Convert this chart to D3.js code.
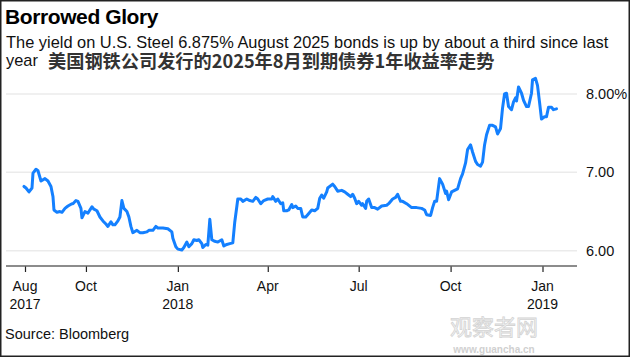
<!DOCTYPE html>
<html><head><meta charset="utf-8">
<script src="https://cdn.jsdelivr.net/npm/d3@7/dist/d3.min.js"></script>
<style>
html,body{margin:0;padding:0;background:#fff;}
svg{display:block;}
</style></head>
<body>
<svg id="c" width="630" height="357"></svg>
<script>
const title = "Borrowed Glory";
const subtitle1 = "The yield on U.S. Steel 6.875% August 2025 bonds is up by about a third since last";
const subtitle2a = "year";
const subtitle2b = "美国钢铁公司发行的2025年8月到期债券1年收益率走势";
const source = "Source: Bloomberg";

const dates = ["2017-07-31","2017-08-02","2017-08-05","2017-08-08","2017-08-09","2017-08-12","2017-08-14","2017-08-17","2017-08-21","2017-08-24",
"2017-08-27","2017-08-29","2017-08-30","2017-09-02","2017-09-05","2017-09-07","2017-09-10","2017-09-13","2017-09-17","2017-09-18",
"2017-09-21","2017-09-23","2017-09-26","2017-09-27","2017-09-30","2017-10-03","2017-10-04","2017-10-07","2017-10-09","2017-10-12",
"2017-10-15","2017-10-18","2017-10-21","2017-10-23","2017-10-26","2017-10-28","2017-10-30","2017-11-02","2017-11-04","2017-11-06",
"2017-11-08","2017-11-11","2017-11-13","2017-11-15","2017-11-17","2017-11-21","2017-11-24","2017-11-27","2017-12-01","2017-12-03",
"2017-12-07","2017-12-10","2017-12-12","2017-12-17","2017-12-22","2017-12-26","2017-12-27","2017-12-30","2018-01-01","2018-01-05",
"2018-01-07","2018-01-10","2018-01-12","2018-01-15","2018-01-17","2018-01-20","2018-01-22","2018-01-25","2018-01-26","2018-01-29",
"2018-01-31","2018-02-02","2018-02-04","2018-02-07","2018-02-10","2018-02-14","2018-02-16","2018-02-19","2018-02-22","2018-02-25",
"2018-02-27","2018-03-01","2018-03-02","2018-03-05","2018-03-07","2018-03-11","2018-03-14","2018-03-17","2018-03-20","2018-03-22",
"2018-03-25","2018-03-28","2018-04-01","2018-04-05","2018-04-06","2018-04-09","2018-04-11","2018-04-14","2018-04-16","2018-04-17",
"2018-04-20","2018-04-22","2018-04-25","2018-04-26","2018-04-29","2018-05-01","2018-05-04","2018-05-06","2018-05-09","2018-05-11",
"2018-05-15","2018-05-18","2018-05-21","2018-05-23","2018-05-25","2018-05-27","2018-05-30","2018-05-31","2018-06-05","2018-06-07",
"2018-06-10","2018-06-14","2018-06-17","2018-06-20","2018-06-23","2018-06-25","2018-06-27","2018-06-29","2018-07-01","2018-07-04",
"2018-07-05","2018-07-08","2018-07-09","2018-07-11","2018-07-14","2018-07-17","2018-07-20","2018-07-24","2018-07-29","2018-07-31",
"2018-08-04","2018-08-07","2018-08-09","2018-08-12","2018-08-14","2018-08-18","2018-08-23","2018-08-28","2018-09-02","2018-09-05",
"2018-09-07","2018-09-11","2018-09-13","2018-09-15","2018-09-17","2018-09-20","2018-09-23","2018-09-26","2018-09-27","2018-09-29",
"2018-10-02","2018-10-05","2018-10-08","2018-10-11","2018-10-13","2018-10-16","2018-10-18","2018-10-21","2018-10-23","2018-10-26",
"2018-10-28","2018-10-31","2018-11-02","2018-11-04","2018-11-06","2018-11-09","2018-11-12","2018-11-15","2018-11-17","2018-11-20",
"2018-11-22","2018-11-24","2018-11-26","2018-11-28","2018-12-01","2018-12-03","2018-12-05","2018-12-06","2018-12-08","2018-12-11",
"2018-12-13","2018-12-16","2018-12-18","2018-12-21","2018-12-22","2018-12-25","2018-12-27","2018-12-29","2018-12-31","2019-01-03",
"2019-01-05","2019-01-07","2019-01-10","2019-01-12","2019-01-15"];

const yields = [6.82,6.80,6.75,6.80,6.99,7.04,7.02,6.89,6.92,6.89,
6.82,6.69,6.52,6.49,6.50,6.49,6.54,6.57,6.60,6.60,
6.64,6.63,6.54,6.42,6.50,6.48,6.50,6.56,6.53,6.51,
6.43,6.38,6.34,6.31,6.37,6.33,6.33,6.38,6.43,6.64,
6.54,6.50,6.43,6.31,6.23,6.26,6.23,6.23,6.24,6.26,
6.26,6.31,6.29,6.29,6.28,6.24,6.16,6.05,6.02,6.01,
6.04,6.11,6.05,6.09,6.14,6.13,6.14,6.09,6.04,6.08,
6.07,6.40,6.14,6.12,6.11,6.14,6.06,6.08,6.09,6.10,
6.37,6.56,6.66,6.66,6.63,6.66,6.64,6.63,6.68,6.66,
6.60,6.64,6.66,6.66,6.69,6.63,6.66,6.60,6.61,6.51,
6.51,6.52,6.59,6.55,6.57,6.54,6.54,6.43,6.43,6.46,
6.52,6.51,6.54,6.67,6.71,6.67,6.75,6.80,6.85,6.82,
6.76,6.77,6.75,6.72,6.69,6.72,6.67,6.60,6.63,6.58,
6.60,6.54,6.63,6.66,6.55,6.55,6.53,6.57,6.58,6.60,
6.66,6.68,6.72,6.63,6.63,6.60,6.55,6.55,6.54,6.52,
6.46,6.45,6.55,6.63,6.63,6.92,6.85,6.73,6.76,6.65,
6.75,6.77,6.79,6.92,6.98,7.12,7.29,7.35,7.26,7.14,
7.10,7.08,7.13,7.35,7.48,7.60,7.60,7.58,7.49,7.56,
7.82,8.00,8.01,7.84,7.80,7.90,7.95,7.91,8.09,8.01,
7.92,7.84,7.84,8.01,8.18,8.20,8.11,7.90,7.68,7.71,
7.71,7.83,7.83,7.80,7.81];

const yTicks = [6, 7, 8];
const yTickLabels = ["6.00", "7.00", "8.00%"];
const xTicks = ["2017-08-01","2017-10-01","2018-01-01","2018-04-01","2018-07-01","2018-10-01","2019-01-01"];
const xTickMonths = ["Aug","Oct","Jan","Apr","Jul","Oct","Jan"];
const xTickYears = ["2017","","2018","","","","2019"];

const parse = d3.timeParse("%Y-%m-%d");
const data = dates.map((d, i) => ({date: parse(d), v: yields[i]}));

const svg = d3.select("#c");
const font = "'Liberation Sans', Arial, sans-serif";

const x = d3.scaleTime().domain([parse("2017-08-01"), parse("2019-01-01")]).range([25, 542.5]);
const y = d3.scaleLinear().domain([6, 8]).range([250.7, 94]);
const gridX0 = 6, gridX1 = 577;

// border
svg.append("rect").attr("x", 0.75).attr("y", 0.75).attr("width", 628.5).attr("height", 355.5)
  .attr("fill", "none").attr("stroke", "#222").attr("stroke-width", 1.5);

// title
svg.append("text").attr("x", 5).attr("y", 24).text(title)
  .attr("font-family", font).attr("font-weight", "bold").attr("font-size", 21)
  .attr("letter-spacing", -0.4).attr("fill", "#000");

svg.append("text").attr("x", 6).attr("y", 48).text(subtitle1)
  .attr("font-family", font).attr("font-size", 16.4).attr("fill", "#111");
svg.append("text").attr("x", 6).attr("y", 66).text(subtitle2a)
  .attr("font-family", font).attr("font-size", 16.4).attr("fill", "#111");
svg.append("text").attr("x", 48).attr("y", 68).text(subtitle2b)
  .attr("font-family", "'Noto Sans CJK SC', sans-serif").attr("font-weight", "bold").attr("font-size", 18.2).attr("fill", "#333");

// grid
svg.append("g").selectAll("line").data(yTicks).join("line")
  .attr("x1", gridX0).attr("x2", gridX1)
  .attr("y1", d => y(d)).attr("y2", d => y(d))
  .attr("stroke", "#ebebeb").attr("stroke-width", 1.5);

// y labels
svg.append("g").selectAll("text").data(yTicks).join("text")
  .attr("x", 586).attr("y", d => y(d)).attr("dy", "0.35em")
  .text((d, i) => yTickLabels[i])
  .attr("font-family", font).attr("font-size", 14.5).attr("fill", "#111");

// x axis
const xAxis = d3.axisBottom(x).tickValues(xTicks.map(parse)).tickSize(6).tickFormat("");
const gx = svg.append("g").attr("transform", "translate(0,266)").call(xAxis);
gx.select(".domain").remove();
gx.selectAll(".tick line").attr("stroke", "#222").attr("stroke-width", 1.2);
svg.append("line").attr("x1", gridX0).attr("x2", gridX1).attr("y1", 266).attr("y2", 266)
  .attr("stroke", "#666").attr("stroke-width", 1.5);

const lab = svg.append("g");
xTicks.forEach((t, i) => {
  const xx = x(parse(t));
  lab.append("text").attr("x", xx).attr("y", 291).attr("text-anchor", "middle").text(xTickMonths[i])
    .attr("font-family", font).attr("font-size", 14).attr("fill", "#111");
  if (xTickYears[i]) lab.append("text").attr("x", xx).attr("y", 309).attr("text-anchor", "middle").text(xTickYears[i])
    .attr("font-family", font).attr("font-size", 14).attr("fill", "#111");
});

// line
const line = d3.line().x(d => x(d.date)).y(d => y(d.v));
svg.append("path").datum(data).attr("d", line)
  .attr("fill", "none").attr("stroke", "#1480ff").attr("stroke-width", 3)
  .attr("stroke-linejoin", "round").attr("stroke-linecap", "round");

// source
svg.append("text").attr("x", 5).attr("y", 339).text(source)
  .attr("font-family", font).attr("font-size", 14.5).attr("fill", "#111");

// watermark
svg.append("text").attr("x", 494).attr("y", 335).attr("text-anchor", "middle").text("观察者网")
  .attr("font-family", "'Noto Sans CJK SC', sans-serif").attr("font-size", 22)
  .attr("fill", "#f4f4f4").attr("stroke", "#d4d4d4").attr("stroke-width", 0.8);
svg.append("text").attr("x", 494).attr("y", 353).attr("text-anchor", "middle").text("www.guancha.cn")
  .attr("font-family", font).attr("font-weight", "bold").attr("font-size", 10).attr("fill", "#d0d0d0");
</script>
</body></html>
